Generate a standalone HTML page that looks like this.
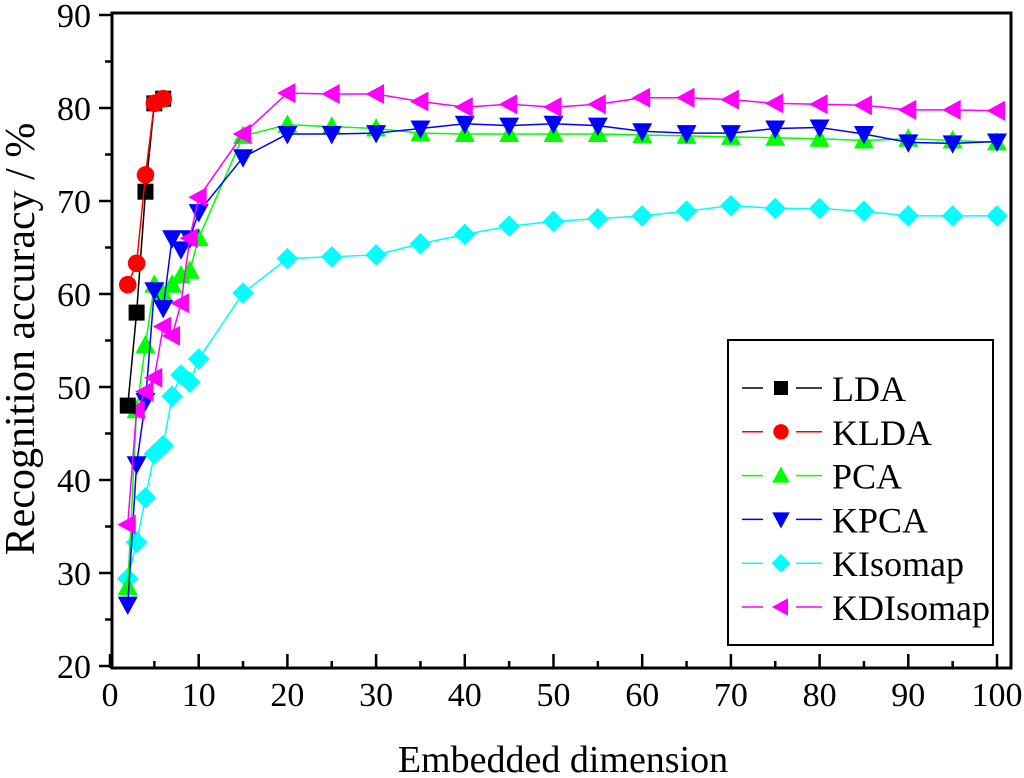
<!DOCTYPE html>
<html><head><meta charset="utf-8"><style>
html,body{margin:0;padding:0;background:#fff;width:1024px;height:778px;overflow:hidden}
text{font-family:"Liberation Serif","DejaVu Serif",serif;fill:#000}
</style></head><body>
<svg id="chart" width="1024" height="778"></svg>
<script>
const xTicks=[0,10,20,30,40,50,60,70,80,90,100];
const yTicks=[20,30,40,50,60,70,80,90];
const xLong=[2,3,4,5,6,7,8,9,10,15,20,25,30,35,40,45,50,55,60,65,70,75,80,85,90,95,100];
const xShort=[2,3,4,5,6];
const ldaVals=[48,58,71,80.5,81];
const kldaVals=[61,63.3,72.8,80.5,81];
const pcaVals=[28.5,47.5,54.5,61,60,61,62,62.5,66,77,78.2,78,77.8,77.3,77.2,77.2,77.2,77.2,77.1,77,76.9,76.8,76.7,76.5,76.7,76.5,76.3];
const kpcaVals=[26.6,41.7,48.5,60.4,58.5,66,64.8,66,68.8,74.7,77.2,77.2,77.3,77.8,78.3,78.1,78.3,78.1,77.5,77.3,77.3,77.8,77.9,77.2,76.3,76.2,76.4];
const kisoVals=[29.4,33.3,38.1,42.8,43.7,49,51.3,50.5,53,60.1,63.8,64,64.2,65.4,66.4,67.3,67.8,68.1,68.4,68.9,69.5,69.2,69.2,68.9,68.4,68.4,68.4];
const kdisoVals=[35.2,47.5,49.5,51,56.5,55.5,59,66,70.4,77.2,81.6,81.5,81.5,80.7,80.1,80.4,80.1,80.4,81.1,81.1,80.9,80.5,80.4,80.3,79.8,79.8,79.7];
const seriesNames=["LDA","KLDA","PCA","KPCA","KIsomap","KDIsomap"];

const NS="http://www.w3.org/2000/svg";
const svg=document.getElementById('chart');
const FF='"Liberation Serif", "DejaVu Serif", serif';
const X=v=>110+8.87*v, Y=v=>15+(90-v)*9.3;
function mk(t,a,p){const e=document.createElementNS(NS,t);for(const k in a)e.setAttribute(k,a[k]);if(t==='text')e.setAttribute('font-family',FF);(p||svg).appendChild(e);return e;}
const box=mk('rect',{x:112,y:13,width:899,height:655,fill:'none',stroke:'#000','stroke-width':3});


xTicks.forEach(v=>{
  const t=mk('line',{x1:X(v),x2:X(v),y1:668,y2:654,stroke:'#000','stroke-width':2.5});
  
  
  if(v<100){const m=mk('line',{x1:X(v+5),x2:X(v+5),y1:668,y2:661,stroke:'#000','stroke-width':2.5});
  
  }
  const l=mk('text',{x:X(v),y:706,'font-size':34,'text-anchor':'middle'});l.textContent=v;
  
  
});
yTicks.forEach(v=>{
  const t=mk('line',{x1:99,x2:112,y1:Y(v),y2:Y(v),stroke:'#000','stroke-width':2.5});
  
  
  if(v<90){const m=mk('line',{x1:105,x2:112,y1:Y(v+5),y2:Y(v+5),stroke:'#000','stroke-width':2.5});
  
  }
  const l=mk('text',{x:91,y:Y(v)+12,'font-size':34,'text-anchor':'end'});l.textContent=v;
  
  
});
const xt=mk('text',{x:563,y:772,'font-size':38,'text-anchor':'middle'});xt.textContent='Embedded dimension';


const yt=mk('text',{x:0,y:0,'font-size':42,'text-anchor':'middle',transform:'translate(34,339) rotate(-90)'});yt.textContent='Recognition accuracy / %';



function marker(type,cx,cy,color,s,g){
  let e;
  if(type==='sq')e=mk('rect',{x:cx-s,y:cy-s,width:2*s,height:2*s,fill:color},g);
  else if(type==='ci')e=mk('circle',{cx,cy,r:s*1.1,fill:color},g);
  else if(type==='up')e=mk('polygon',{points:`${cx},${cy-s*1.3} ${cx-s*1.25},${cy+s} ${cx+s*1.25},${cy+s}`,fill:color},g);
  else if(type==='dn')e=mk('polygon',{points:`${cx},${cy+s*1.3} ${cx-s*1.25},${cy-s} ${cx+s*1.25},${cy-s}`,fill:color},g);
  else if(type==='di')e=mk('polygon',{points:`${cx},${cy-s*1.35} ${cx+s*1.35},${cy} ${cx},${cy+s*1.35} ${cx-s*1.35},${cy}`,fill:color},g);
  else e=mk('polygon',{points:`${cx-s*1.3},${cy} ${cx+s},${cy-s*1.25} ${cx+s},${cy+s*1.25}`,fill:color},g);
  return e;
}
const defs=[[xShort,ldaVals,'#000','sq'],[xShort,kldaVals,'#f00','ci'],[xLong,pcaVals,'#0f0','up'],[xLong,kpcaVals,'#00f','dn'],[xLong,kisoVals,'#0ff','di'],[xLong,kdisoVals,'#f0f','le']];
const order=[4,2,3,5,0,1];
order.forEach(i=>{
  const [xs,vs,c,m]=defs[i];
  const g=mk('g',{});
  
  
  const pl=mk('polyline',{points:xs.map((x,j)=>X(x)+','+Y(vs[j])).join(' '),fill:'none',stroke:c,'stroke-width':1.5},g);
  
  
  xs.forEach((x,j)=>{const p=marker(m,X(x),Y(vs[j]),c,8,g);
    
    });
});
const lg=mk('g',{});


mk('rect',{x:728,y:340,width:265,height:305,fill:'#fff',stroke:'#000','stroke-width':2},lg);
defs.forEach((d,i)=>{
  const y=388+i*43.8;
  const e=mk('g',{},lg);
  
  
  mk('line',{x1:742,x2:763,y1:y,y2:y,stroke:d[2],'stroke-width':1.5},e);
  mk('line',{x1:796,x2:822,y1:y,y2:y,stroke:d[2],'stroke-width':1.5},e);
  marker(d[3],781,y,d[2],7,e);
  const t=mk('text',{x:832,y:y+13,'font-size':36},e);t.textContent=seriesNames[i];
});
</script>
</body></html>
